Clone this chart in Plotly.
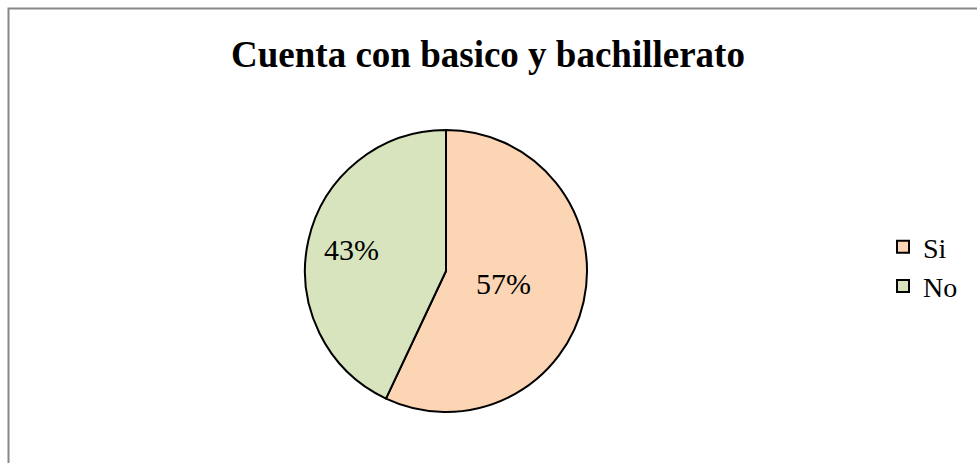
import math
import plotly.graph_objects as go

labels = ["Si", "No"]
values = [57, 43]
colors = ["#FCD5B5", "#D7E4BD"]

W, H = 977, 463
cx, cy, r = 446, 271, 141
label_radius = [0.42, 0.69]   # fraction of radius where each % label sits

fig = go.Figure(go.Pie(
    labels=labels, values=values, sort=False, direction="clockwise", rotation=0,
    marker=dict(colors=colors, line=dict(color="black", width=2)),
    textinfo="none",
    domain=dict(x=[(cx - r) / W, (cx + r) / W], y=[1 - (cy + r) / H, 1 - (cy - r) / H]),
    hoverinfo="label+percent",
))

# percentage labels at each slice's mid-angle
total = sum(values)
annotations = []
start = 0.0
for v, f in zip(values, label_radius):
    mid = (start + v / 2) / total * 2 * math.pi
    start += v
    px = cx + f * r * math.sin(mid)
    py = cy - f * r * math.cos(mid)
    annotations.append(dict(
        x=px / W, y=1 - py / H, xref="paper", yref="paper",
        text=f"{round(v / total * 100)}%", showarrow=False,
        xanchor="center", yanchor="middle",
        font=dict(family="Liberation Serif", size=30, color="black")))

fig.update_layout(
    width=W, height=H,
    margin=dict(l=0, r=0, t=0, b=0),
    paper_bgcolor="white",
    title=dict(text="<b>Cuenta con basico y bachillerato</b>", x=488 / W, xanchor="center",
               y=1 - 54 / H, yanchor="middle",
               font=dict(family="Liberation Serif", size=37, color="black")),
    legend=dict(x=883 / W, y=1 - 222 / H, xanchor="left", yanchor="top",
                font=dict(family="Liberation Serif", size=28, color="black"),
                tracegroupgap=0, traceorder="normal"),
    showlegend=True,
    annotations=annotations,
    shapes=[dict(type="rect", xref="paper", yref="paper",
                 x0=8.5 / W, x1=1.05, y0=-0.05, y1=1 - 8.5 / H,
                 line=dict(color="#888888", width=2), fillcolor="rgba(0,0,0,0)")],
)

fig.write_html("out.html", config={"displayModeBar": False},
               post_script="document.body.style.margin='0px';document.body.style.overflow='hidden';")
